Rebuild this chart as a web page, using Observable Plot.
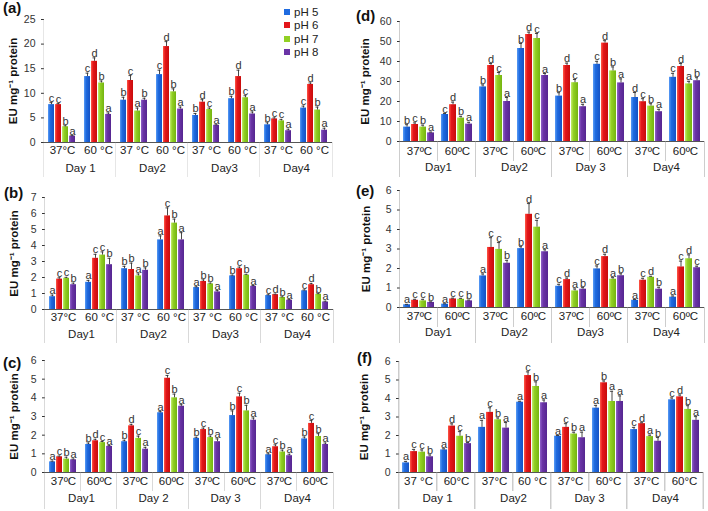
<!DOCTYPE html>
<html><head><meta charset="utf-8">
<script src="https://cdn.jsdelivr.net/npm/d3@7"></script>
<script src="https://cdn.jsdelivr.net/npm/@observablehq/plot@0.6"></script>
<style>
body{margin:0;background:#fff;}
#root{position:relative;width:708px;height:511px;overflow:hidden;background:#fff;font-family:"Liberation Sans",Arial,sans-serif;}
.panel{position:absolute;}
.plab{position:absolute;font-weight:bold;font-size:15px;color:#111;line-height:1;}
.legend{position:absolute;left:284px;top:6px;font-size:11.5px;color:#222;}
.legend div{height:13.3px;line-height:13.3px;white-space:nowrap;}
.legend span.sw{display:inline-block;width:6px;height:6px;margin-right:4px;vertical-align:1px;}
</style></head>
<body><div id="root"></div>
<script>
// ---------- categories ----------
const phLevels = ["pH 5", "pH 6", "pH 7", "pH 8"];
const phColors = ["#1f6be0", "#e3161a", "#92d024", "#6a34a6"];
const phLight = ["#5a9cf5", "#ff5a48", "#c2ec6e", "#8e62c8"];
const phDark = ["#1552c4", "#c80c0c", "#74b410", "#552690"];
const groupIndex = [0, 1, 2, 3, 4, 5, 6, 7]; // Day1 37, Day1 60, Day2 37, ... Day4 60

// ---------- tick labels ----------
const tempsA = ["37°C", "60 °C", "37 °C", "60 °C", "37 °C", "60 °C", "37 °C", "60 °C"];
const tempsB = ["37°C", "60 °C", "37 °C", "60 °C", "37 °C", "60 °C", "37 °C", "60 °C"];
const tempsC = ["37ºC", "60ºC", "37ºC", "60ºC", "37ºC", "60ºC", "37ºC", "60ºC"];
const tempsD = ["37ºC", "60ºC", "37ºC", "60ºC", "37ºC", "60ºC", "37ºC", "60ºC"];
const tempsE = ["37ºC", "60ºC", "37ºC", "60ºC", "37ºC", "60ºC", "37ºC", "60ºC"];
const tempsF = ["37 °C", "60°C", "37°C", "60 °C", "37°C", "60°C", "37°C", "60°C"];
const daysA = ["Day 1", "Day2", "Day3", "Day4"];
const daysB = ["Day1", "Day2", "Day3", "Day4"];
const daysC = ["Day1", "Day 2", "Day 3", "Day4"];
const daysD = ["Day1", "Day2", "Day 3", "Day4"];
const daysE = ["Day1", "Day2", "Day3", "Day4"];
const daysF = ["Day 1", "Day2", "Day 3", "Day4"];
const ticksA = [0, 5, 10, 15, 20, 25];
const ticksB = [0, 1, 2, 3, 4, 5, 6, 7];
const ticksC = [0, 1, 2, 3, 4, 5, 6];
const ticksD = [0, 10, 20, 30, 40, 50, 60];
const ticksE = [0, 1, 2, 3, 4, 5, 6];
const ticksF = [0, 1, 2, 3, 4, 5, 6];
const yTitle = "EU mg⁻¹ protein";

// ---------- series values (group order x pH 5,6,7,8) ----------
const valuesA = [7.7, 7.7, 3.2, 1.3, 13.4, 16.5, 12.1, 5.7, 8.6, 12.6, 6.4, 8.6, 13.8, 19.5, 10.3, 6.8,
                 5.5, 8.2, 6.7, 3.5, 8.9, 13.4, 9.1, 5.8, 3.6, 4.8, 4.4, 2.4, 7.0, 11.8, 6.6, 2.5];
const errorsA = [0.4, 0.2, 0.2, 0.1, 0.7, 0.7, 0.4, 0.3, 0.6, 1.0, 0.6, 0.4, 0.9, 1.0, 0.6, 0.4,
                 0.4, 0.5, 0.3, 0.1, 0.5, 1.3, 0.4, 0.4, 0.4, 0.2, 0.3, 0.3, 0.4, 0.3, 0.6, 0.4];
const lettersA = ["c","c","b","a", "c","d","b","a", "b","c","a","b", "c","d","b","a",
                  "b","d","c","a", "b","d","c","a", "b","c","c","a", "c","d","b","a"];

const valuesB = [0.8, 1.9, 1.95, 1.55, 1.7, 3.2, 3.4, 2.8, 2.55, 2.5, 2.1, 2.45, 4.35, 5.85, 5.4, 4.35,
                 1.37, 1.75, 1.6, 1.1, 2.1, 2.55, 2.15, 1.45, 0.87, 0.93, 0.75, 0.58, 1.17, 1.55, 0.95, 0.47];
const errorsB = [0.1, 0.08, 0.06, 0.1, 0.12, 0.25, 0.2, 0.4, 0.15, 0.4, 0.12, 0.15, 0.25, 0.5, 0.25, 0.45,
                 0.05, 0.1, 0.05, 0.08, 0.05, 0.1, 0.05, 0.05, 0.05, 0.03, 0.04, 0.04, 0.05, 0.08, 0.04, 0.05];
const lettersB = ["a","c","c","b", "a","c","c","b", "b","b","a","b", "a","c","b","a",
                  "a","b","b","a", "b","c","b","a", "c","d","b","a", "c","d","b","a"];

const valuesC = [0.57, 0.84, 0.72, 0.68, 1.5, 1.7, 1.6, 1.4, 1.65, 2.5, 1.83, 1.25, 3.2, 5.05, 4.0, 3.55,
                 1.83, 2.3, 1.87, 1.65, 3.05, 4.05, 3.3, 2.8, 0.95, 1.38, 1.1, 0.9, 1.8, 2.63, 1.93, 1.5];
const errorsC = [0.04, 0.04, 0.1, 0.04, 0.08, 0.08, 0.06, 0.04, 0.08, 0.08, 0.12, 0.1, 0.06, 0.15, 0.2, 0.08,
                 0.06, 0.08, 0.08, 0.15, 0.25, 0.2, 0.3, 0.12, 0.05, 0.1, 0.1, 0.08, 0.1, 0.15, 0.15, 0.08];
const lettersC = ["a","c","b","a", "b","d","c","a", "b","d","c","a", "a","c","b","a",
                  "b","c","b","a", "b","c","b","a", "a","c","b","a", "b","c","b","a"];

const valuesD = [7.2, 8.5, 7.2, 4.3, 13.5, 18.4, 11.7, 8.7, 27.3, 38, 33, 20, 46.5, 53.5, 51.5, 33,
                 22.7, 38, 29.4, 17.4, 38.6, 49.2, 35.3, 29.3, 22, 19.9, 17.7, 14.9, 32.1, 37.5, 28.8, 30.4];
const errorsD = [1.2, 0.8, 1.0, 0.4, 0.5, 1.3, 0.9, 0.9, 1.0, 1.0, 1.5, 2.0, 2.5, 1.2, 2.5, 1.0,
                 1.7, 1.2, 1.6, 1.2, 1.5, 1.2, 2.0, 2.0, 2.5, 1.5, 1.2, 1.2, 2.0, 1.5, 1.3, 1.5];
const lettersD = ["b","c","b","a", "c","d","b","a", "b","d","c","a", "b","d","c","a",
                  "b","d","c","a", "c","d","b","a", "d","c","b","a", "c","d","a","b"];

const valuesE = [0.14, 0.37, 0.34, 0.26, 0.17, 0.44, 0.42, 0.34, 1.62, 3.08, 2.98, 2.27, 3.02, 4.78, 4.12, 2.86,
                 1.09, 1.43, 0.85, 0.94, 1.98, 2.61, 1.45, 1.63, 0.37, 1.4, 1.55, 0.94, 0.53, 2.08, 2.5, 2.04];
const errorsE = [0.02, 0.05, 0.08, 0.03, 0.02, 0.04, 0.05, 0.04, 0.1, 0.5, 0.35, 0.15, 0.1, 0.55, 0.35, 0.1,
                 0.1, 0.08, 0.1, 0.08, 0.15, 0.12, 0.08, 0.1, 0.04, 0.1, 0.05, 0.1, 0.06, 0.3, 0.2, 0.08];
const lettersE = ["a","c","c","b", "a","c","c","b", "a","c","c","b", "b","d","c","a",
                  "c","d","a","b", "c","d","a","b", "a","c","d","b", "a","c","d","c"];

const valuesF = [0.52, 1.13, 1.1, 0.85, 1.22, 2.51, 1.96, 1.56, 2.44, 3.25, 2.85, 2.4, 3.8, 5.24, 4.65, 3.77,
                 1.96, 2.44, 2.08, 1.88, 3.48, 4.85, 3.84, 3.84, 2.32, 2.64, 1.94, 1.69, 3.93, 4.09, 3.41, 2.82];
const errorsF = [0.08, 0.12, 0.12, 0.1, 0.06, 0.12, 0.25, 0.06, 0.38, 0.25, 0.1, 0.3, 0.05, 0.2, 0.25, 0.15,
                 0.04, 0.2, 0.1, 0.3, 0.15, 0.1, 0.55, 0.3, 0.12, 0.05, 0.08, 0.2, 0.1, 0.1, 0.2, 0.2];
const lettersF = ["a","c","c","b", "a","d","c","b", "a","c","b","a", "a","c","b","a",
                  "a","c","b","a", "a","b","a","a", "c","d","a","b", "c","d","b","a"];

// ---------- layout (styles only) ----------
const panels = [
  {name: "(a)", values: valuesA, errors: errorsA, letters: lettersA, temps: tempsA, days: daysA, ticks: ticksA,
   left: 0, top: 0, width: 354, height: 182, ml: 41, mr: 19, mt: 19, mb: 40, po: 0.4, tempSep: false,
   tempDy: 11, dayDy: 29, tableH: 35, tempH: 20, labX: 3, labY: 0, titleX: 11},
  {name: "(b)", values: valuesB, errors: errorsB, letters: lettersB, temps: tempsB, days: daysB, ticks: ticksB,
   left: 0, top: 165, width: 354, height: 182, ml: 42, mr: 19, mt: 32, mb: 38, po: 0.4, tempSep: false,
   tempDy: 11, dayDy: 28, tableH: 34, tempH: 20, labX: 4, labY: 185, titleX: 12},
  {name: "(c)", values: valuesC, errors: errorsC, letters: lettersC, temps: tempsC, days: daysC, ticks: ticksC,
   left: 0, top: 335, width: 354, height: 176, ml: 42, mr: 19, mt: 25, mb: 39, po: 0.4, tempSep: true,
   tempDy: 12, dayDy: 29, tableH: 37, tempH: 19, labX: 3, labY: 355, titleX: 12},
  {name: "(d)", values: valuesD, errors: errorsD, letters: lettersD, temps: tempsD, days: daysD, ticks: ticksD,
   left: 354, top: 0, width: 354, height: 182, ml: 44, mr: 2, mt: 21, mb: 41, po: 0.25, tempSep: true,
   tempDy: 13, dayDy: 29, tableH: 36, tempH: 20, labX: 356, labY: 8, titleX: 10},
  {name: "(e)", values: valuesE, errors: errorsE, letters: lettersE, temps: tempsE, days: daysE, ticks: ticksE,
   left: 354, top: 165, width: 354, height: 182, ml: 44, mr: 2, mt: 25, mb: 40, po: 0.25, tempSep: true,
   tempDy: 12, dayDy: 28, tableH: 36, tempH: 20, labX: 356, labY: 183, titleX: 11},
  {name: "(f)", values: valuesF, errors: errorsF, letters: lettersF, temps: tempsF, days: daysF, ticks: ticksF,
   left: 354, top: 335, width: 354, height: 176, ml: 44, mr: 4, mt: 26, mb: 39, po: 0.25, tempSep: true,
   tempDy: 12, dayDy: 29, tableH: 37, tempH: 19, labX: 357, labY: 350, titleX: 10}
];

const root = document.getElementById("root");
const lineColor = "#9a9a9a";

panels.forEach((p, pIdx) => {
  const rows = [];
  groupIndex.forEach(g => phLevels.forEach((ph, k) => {
    const i = g * 4 + k;
    rows.push({g, ph, v: p.values[i], e: p.errors[i], L: p.letters[i]});
  }));
  const plotW = p.width - p.ml - p.mr;
  const plotH = p.height - p.mt - p.mb;
  const facetW = plotW / groupIndex.length;
  const pi = 0.1;
  const step = facetW / (phLevels.length - pi + 2 * p.po);
  const bw = step * (1 - pi);
  const capInset = Math.max(0, (bw - 4) / 2);
  const dayStarts = groupIndex.filter(g => g % 2 === 0 && g > 0);
  const oddGroups = groupIndex.filter(g => g % 2 === 1);
  const gradIds = phLevels.map((_, k) => `bargrad-${pIdx}-${k}`);

  // gradient definitions (styling only)
  const defsMark = () => {
    const defs = d3.create("svg:defs");
    phLevels.forEach((_, k) => {
      const lg = defs.append("linearGradient").attr("id", gradIds[k]).attr("x1", "0").attr("x2", "1").attr("y1", "0").attr("y2", "0");
      lg.append("stop").attr("offset", "0%").attr("stop-color", phLight[k]);
      lg.append("stop").attr("offset", "35%").attr("stop-color", phColors[k]);
      lg.append("stop").attr("offset", "100%").attr("stop-color", phDark[k]);
    });
    return defs.node();
  };

  const marks = [
    defsMark,
    Plot.barY(rows, {fx: "g", x: "ph", y: "v", fill: "ph"}),
    Plot.ruleX(rows, {fx: "g", x: "ph", y1: "v", y2: d => d.v + d.e, stroke: "#333", strokeWidth: 0.9}),
    Plot.tickY(rows, {fx: "g", x: "ph", y: d => d.v + d.e, stroke: "#333", strokeWidth: 0.9, insetLeft: capInset, insetRight: capInset}),
    Plot.text(rows, {fx: "g", x: "ph", y: d => d.v + d.e, text: "L", lineAnchor: "bottom", dy: -1, fontSize: 11, fill: "#333"}),
    Plot.ruleY([0], {stroke: "#555", strokeWidth: 1}),
    // left axis line / table edge
    Plot.rect([0], {fx: d => d, fill: lineColor, insetTop: 0, insetBottom: -p.tableH, insetLeft: -0.5, insetRight: facetW - 0.5}),
    // day separators
    Plot.rect(dayStarts, {fx: d => d, fill: lineColor, insetTop: plotH, insetBottom: -p.tableH, insetLeft: -0.5, insetRight: facetW - 0.5}),
    // right table edge
    Plot.rect([7], {fx: d => d, fill: lineColor, insetTop: plotH, insetBottom: -p.tableH, insetLeft: facetW - 0.5, insetRight: -0.5}),
    Plot.text(groupIndex, {fx: d => d, text: d => p.temps[d], frameAnchor: "bottom", dy: p.tempDy, fontSize: 11.5, fill: "#222"}),
    Plot.text(groupIndex.filter(g => g % 2 === 0), {fx: d => d, text: d => p.days[d / 2], frameAnchor: "bottom-right", textAnchor: "middle", dy: p.dayDy, fontSize: 11.5, fill: "#222"})
  ];
  if (p.tempSep) {
    marks.push(Plot.rect(oddGroups, {fx: d => d, fill: lineColor, insetTop: plotH, insetBottom: -p.tempH, insetLeft: -0.5, insetRight: facetW - 0.5}));
  }

  const chart = Plot.plot({
    width: p.width, height: p.height,
    marginLeft: p.ml, marginRight: p.mr, marginTop: p.mt, marginBottom: p.mb,
    style: {fontFamily: "'Liberation Sans', Arial, sans-serif", fontSize: "10.5px", color: "#333", background: "transparent", overflow: "visible"},
    fx: {domain: groupIndex, padding: 0, axis: null},
    x: {domain: phLevels, paddingInner: pi, paddingOuter: p.po, axis: null},
    y: {domain: [0, p.ticks[p.ticks.length - 1]], ticks: p.ticks, tickSize: 3, tickFormat: d3.format("d"),
        label: yTitle, labelAnchor: "center", labelOffset: p.ml - (p.titleX - 5.5)},
    color: {type: "ordinal", domain: phLevels, range: gradIds.map(id => `url(#${id})`)},
    marks
  });
  chart.classList.add("panel");
  chart.style.left = p.left + "px";
  chart.style.top = p.top + "px";
  d3.select(chart).selectAll('[aria-label="y-axis label"] text')
    .text(yTitle).attr("font-weight", "bold").attr("font-size", 11.5).attr("fill", "#111");
  root.appendChild(chart);

  const lab = document.createElement("div");
  lab.className = "plab";
  lab.textContent = p.name;
  lab.style.left = p.labX + "px";
  lab.style.top = p.labY + "px";
  root.appendChild(lab);
});

// legend in panel (a)
const legend = document.createElement("div");
legend.className = "legend";
phLevels.forEach((ph, k) => {
  const row = document.createElement("div");
  const sw = document.createElement("span");
  sw.className = "sw";
  sw.style.background = phColors[k];
  row.appendChild(sw);
  row.appendChild(document.createTextNode(ph));
  legend.appendChild(row);
});
root.appendChild(legend);
</script>
</body></html>
